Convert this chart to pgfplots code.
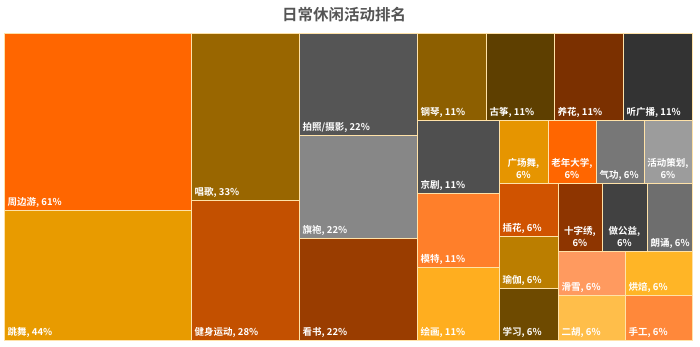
\documentclass[border=0pt]{standalone}
\usepackage{pgfplots}
\pgfplotsset{compat=1.18}
\usepackage{fontspec}
\setmainfont{Noto Sans CJK SC}[BoldFont={Noto Sans CJK SC Bold}]
\definecolor{cA}{HTML}{FF6600}
\definecolor{cB}{HTML}{E89B00}
\definecolor{cC}{HTML}{996600}
\definecolor{cD}{HTML}{C35000}
\definecolor{cE}{HTML}{555555}
\definecolor{cF}{HTML}{878787}
\definecolor{cG}{HTML}{9A3D00}
\definecolor{cH}{HTML}{8D5F00}
\definecolor{cI}{HTML}{5E3F00}
\definecolor{cJ}{HTML}{7B3000}
\definecolor{cK}{HTML}{333333}
\definecolor{cL}{HTML}{4F4F4F}
\definecolor{cM}{HTML}{FF7F2A}
\definecolor{cN}{HTML}{FFAE1F}
\definecolor{cO}{HTML}{E69500}
\definecolor{cP}{HTML}{FF6600}
\definecolor{cQ}{HTML}{777777}
\definecolor{cR}{HTML}{9C9C9C}
\definecolor{cS}{HTML}{D05300}
\definecolor{cT}{HTML}{BB7E00}
\definecolor{cU}{HTML}{6E4A00}
\definecolor{cV}{HTML}{8E3500}
\definecolor{cW}{HTML}{414141}
\definecolor{cX}{HTML}{6E6E6E}
\definecolor{cY}{HTML}{FF9A5F}
\definecolor{cZ}{HTML}{FFB526}
\definecolor{ca}{HTML}{FFBE4A}
\definecolor{cb}{HTML}{FF883A}
\definecolor{edge}{HTML}{FFE2A8}
\definecolor{titlec}{HTML}{555555}
% rectangle: x0 y0 x1 y1 colour
\newcommand{\rect}[5]{%
  \addplot[fill=#5, draw=edge, line width=0.7pt] coordinates {(#1,#2) (#3,#2) (#3,#4) (#1,#4) (#1,#2)};}
% single-line label at bottom left
\newcommand{\lab}[3]{\node[anchor=base west, text=white, font=\fontsize{9.5}{11}\selectfont\bfseries, inner sep=0pt] at (axis cs:#1+3.5,#2-4.5) {#3};}
% two-line label centered
\newcommand{\labc}[4]{\node[anchor=base, text=white, font=\fontsize{9.5}{11.5}\selectfont\bfseries, inner sep=0pt] at (axis cs:#1,#2-16.5) {#3};
  \node[anchor=base, text=white, font=\fontsize{9.5}{11.5}\selectfont\bfseries, inner sep=0pt] at (axis cs:#1,#2-4.5) {#4};}
\begin{document}
\begin{tikzpicture}
\begin{axis}[
  scale only axis, width=700pt, height=346pt,
  xmin=0, xmax=700, ymin=0, ymax=346, y dir=reverse,
  hide axis, clip=false]
\rect{4}{33}{191}{210}{cA}
\rect{4}{210}{191}{340}{cB}
\rect{191}{33}{299}{200}{cC}
\rect{191}{200}{299}{340}{cD}
\rect{299}{33}{417}{135}{cE}
\rect{299}{135}{417}{238}{cF}
\rect{299}{238}{417}{340}{cG}
\rect{417}{33}{486}{120}{cH}
\rect{486}{33}{554}{120}{cI}
\rect{554}{33}{623}{120}{cJ}
\rect{623}{33}{692}{120}{cK}
\rect{417}{120}{499}{193}{cL}
\rect{417}{193}{499}{267}{cM}
\rect{417}{267}{499}{340}{cN}
\rect{499}{120}{548}{183}{cO}
\rect{548}{120}{596}{183}{cP}
\rect{596}{120}{644}{183}{cQ}
\rect{644}{120}{692}{183}{cR}
\rect{499}{183}{558}{236}{cS}
\rect{499}{236}{558}{288}{cT}
\rect{499}{288}{558}{340}{cU}
\rect{558}{183}{602}{251}{cV}
\rect{602}{183}{647}{251}{cW}
\rect{647}{183}{692}{251}{cX}
\rect{558}{251}{625}{295}{cY}
\rect{625}{251}{692}{295}{cZ}
\rect{558}{295}{625}{340}{ca}
\rect{625}{295}{692}{340}{cb}
\lab{4}{210}{周边游, 61\%}
\lab{4}{340}{跳舞, 44\%}
\lab{191}{200}{唱歌, 33\%}
\lab{191}{340}{健身运动, 28\%}
\lab{299}{135}{拍照/摄影, 22\%}
\lab{299}{238}{旗袍, 22\%}
\lab{299}{340}{看书, 22\%}
\lab{417}{120}{钢琴, 11\%}
\lab{486}{120}{古筝, 11\%}
\lab{554}{120}{养花, 11\%}
\lab{623}{120}{听广播, 11\%}
\lab{417}{193}{京剧, 11\%}
\lab{417}{267}{模特, 11\%}
\lab{417}{340}{绘画, 11\%}
\labc{523.5}{183}{广场舞,}{6\%}
\labc{572}{183}{老年大学,}{6\%}
\lab{596}{183}{气功, 6\%}
\labc{668}{183}{活动策划,}{6\%}
\lab{499}{236}{插花, 6\%}
\lab{499}{288}{瑜伽, 6\%}
\lab{499}{340}{学习, 6\%}
\labc{580}{251}{十字绣,}{6\%}
\labc{624.5}{251}{做公益,}{6\%}
\lab{647}{251}{朗诵, 6\%}
\lab{558}{295}{滑雪, 6\%}
\lab{625}{295}{烘焙, 6\%}
\lab{558}{340}{二胡, 6\%}
\lab{625}{340}{手工, 6\%}
\node[anchor=center, text=titlec, font=\fontsize{15.5}{18}\selectfont\bfseries, inner sep=0pt] at (axis cs:344,15) {日常休闲活动排名};
\end{axis}
\path (current axis.south west) rectangle (current axis.north east);
\end{tikzpicture}
\end{document}
